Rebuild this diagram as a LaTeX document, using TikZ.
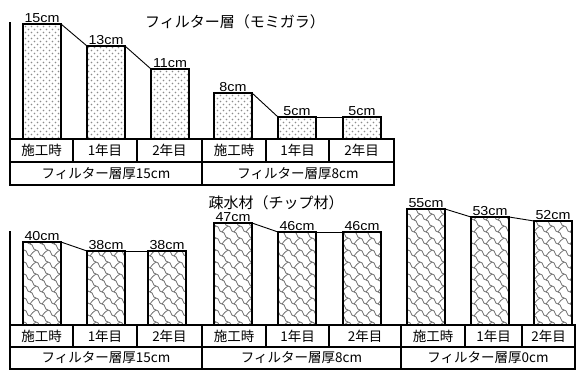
\documentclass[tikz,border=0pt]{standalone}
\usepackage{fontspec}
\setmainfont{Noto Sans CJK JP}
\newfontfamily\valfont[FakeStretch=1.1]{Liberation Sans}
\usetikzlibrary{patterns}

% dot fill for the filter layer, wavy fill for the chips
\pgfdeclarepatternformonly{stipple}{\pgfqpoint{-1pt}{-1pt}}{\pgfqpoint{7pt}{7pt}}{\pgfqpoint{6pt}{6pt}}{%
  \pgfpathcircle{\pgfqpoint{1.5pt}{1.5pt}}{0.85pt}
  \pgfpathcircle{\pgfqpoint{4.5pt}{4.5pt}}{0.85pt}
  \pgfusepath{fill}}
\pgfdeclarepatternformonly{chips}{\pgfqpoint{-1pt}{-1pt}}{\pgfqpoint{13pt}{13pt}}{\pgfqpoint{12pt}{12pt}}{%
  \pgfsetlinewidth{0.8pt}
  \pgfpathmoveto{\pgfqpoint{0pt}{12pt}}
  \pgfpathcurveto{\pgfqpoint{4pt}{12pt}}{\pgfqpoint{2pt}{6pt}}{\pgfqpoint{6pt}{6pt}}
  \pgfpathcurveto{\pgfqpoint{10pt}{6pt}}{\pgfqpoint{8pt}{0pt}}{\pgfqpoint{12pt}{0pt}}
  \pgfpathmoveto{\pgfqpoint{6pt}{6pt}}
  \pgfpathcurveto{\pgfqpoint{7pt}{9pt}}{\pgfqpoint{10pt}{10pt}}{\pgfqpoint{12pt}{12pt}}
  \pgfusepath{stroke}}

\begin{document}
\begin{tikzpicture}[x=1pt,y=-1pt,
  bar/.style={draw,line width=1.1pt,inner sep=0pt,outer sep=0pt,minimum width=38pt,anchor=south west},
  dotbar/.style={bar,pattern=stipple,pattern color=black!45},
  chipbar/.style={bar,pattern=chips,pattern color=black!55},
  val/.style={anchor=base,inner sep=0pt,font=\valfont\fontsize{13}{13}\selectfont},
  cell/.style={inner sep=0pt,font=\fontsize{13.5}{13.5}\selectfont},
  ttl/.style={inner sep=0pt,font=\fontsize{15}{15}\selectfont},
  rule/.style={line width=2pt,line cap=rect},
  link/.style={line width=0.9pt}]
  \useasboundingbox (0,0) rectangle (583,370);

  % ---- filter layer (top) ----
  \node[ttl] (ftitle) at (235,22) {フィルター層（モミガラ）};
  \node[dotbar,minimum height=115pt] (f1) at (23,139) {};
  \node[dotbar,minimum height=93pt]  (f2) at (87,139) {};
  \node[dotbar,minimum height=70pt]  (f3) at (151,139) {};
  \node[dotbar,minimum height=46pt]  (f4) at (214,139) {};
  \node[dotbar,minimum height=22pt]  (f5) at (278,139) {};
  \node[dotbar,minimum height=22pt]  (f6) at (343,139) {};
  \foreach \b/\v in {f1/15cm,f2/13cm,f3/11cm,f4/8cm,f5/5cm,f6/5cm}
    \node[val] (\b v) at ([yshift=2pt]\b.north) {\v};
  \draw[link] (f1.north east) -- (f2.north west);
  \draw[link] (f2.north east) -- (f3.north west);
  \draw[link] (f4.north east) -- (f5.north west);
  \draw[link] (f5.north east) -- (f6.north west);

  \draw[rule] (10,23) -- (10,185);
  \foreach \y in {139,162,185}
    \draw[rule] (10,\y) -- (394,\y);
  \foreach \x in {73,137,266,329}
    \draw[rule] (\x,139) -- (\x,162);
  \foreach \x in {202,394}
    \draw[rule] (\x,139) -- (\x,185);
  \foreach \x/\t [count=\i] in {41.5/施工時,105/1年目,169.5/2年目,234/施工時,297.5/1年目,361.5/2年目}
    \node[cell] (fc\i) at (\x,150.5) {\t};
  \node[cell] (fr1) at (106,173.5) {フィルター層厚15cm};
  \node[cell] (fr2) at (298,173.5) {フィルター層厚8cm};

  % ---- chip material (bottom) ----
  \node[ttl] (ctitle) at (276,203) {疎水材（チップ材）};
  \node[chipbar,minimum height=83pt]  (c1) at (23,325) {};
  \node[chipbar,minimum height=74pt]  (c2) at (87,325) {};
  \node[chipbar,minimum height=74pt]  (c3) at (148,325) {};
  \node[chipbar,minimum height=102pt] (c4) at (214,325) {};
  \node[chipbar,minimum height=93pt]  (c5) at (278,325) {};
  \node[chipbar,minimum height=93pt]  (c6) at (343,325) {};
  \node[chipbar,minimum height=116pt] (c7) at (407,325) {};
  \node[chipbar,minimum height=108pt] (c8) at (471,325) {};
  \node[chipbar,minimum height=104pt] (c9) at (534,325) {};
  \foreach \b/\v in {c1/40cm,c2/38cm,c3/38cm,c4/47cm,c5/46cm,c6/46cm,c7/55cm,c8/53cm,c9/52cm}
    \node[val] (\b v) at ([yshift=2pt]\b.north) {\v};
  \draw[link] (c1.north east) -- (c2.north west);
  \draw[link] (c2.north east) -- (c3.north west);
  \draw[link] (c4.north east) -- (c5.north west);
  \draw[link] (c5.north east) -- (c6.north west);
  \draw[link] (c7.north east) -- (c8.north west);
  \draw[link] (c8.north east) -- (c9.north west);

  \draw[rule] (10,232) -- (10,369);
  \foreach \y in {325,347,369}
    \draw[rule] (10,\y) -- (575,\y);
  \foreach \x in {73,137,266,329,465,522}
    \draw[rule] (\x,325) -- (\x,347);
  \foreach \x in {202,401,575}
    \draw[rule] (\x,325) -- (\x,369);
  \foreach \x/\t [count=\i] in {41.5/施工時,105/1年目,169.5/2年目,234/施工時,297.5/1年目,365/2年目,433/施工時,493.5/1年目,548.5/2年目}
    \node[cell] (cc\i) at (\x,336) {\t};
  \node[cell] (cr1) at (106,358) {フィルター層厚15cm};
  \node[cell] (cr2) at (301.5,358) {フィルター層厚8cm};
  \node[cell] (cr3) at (488,358) {フィルター層厚0cm};
\end{tikzpicture}
\end{document}
